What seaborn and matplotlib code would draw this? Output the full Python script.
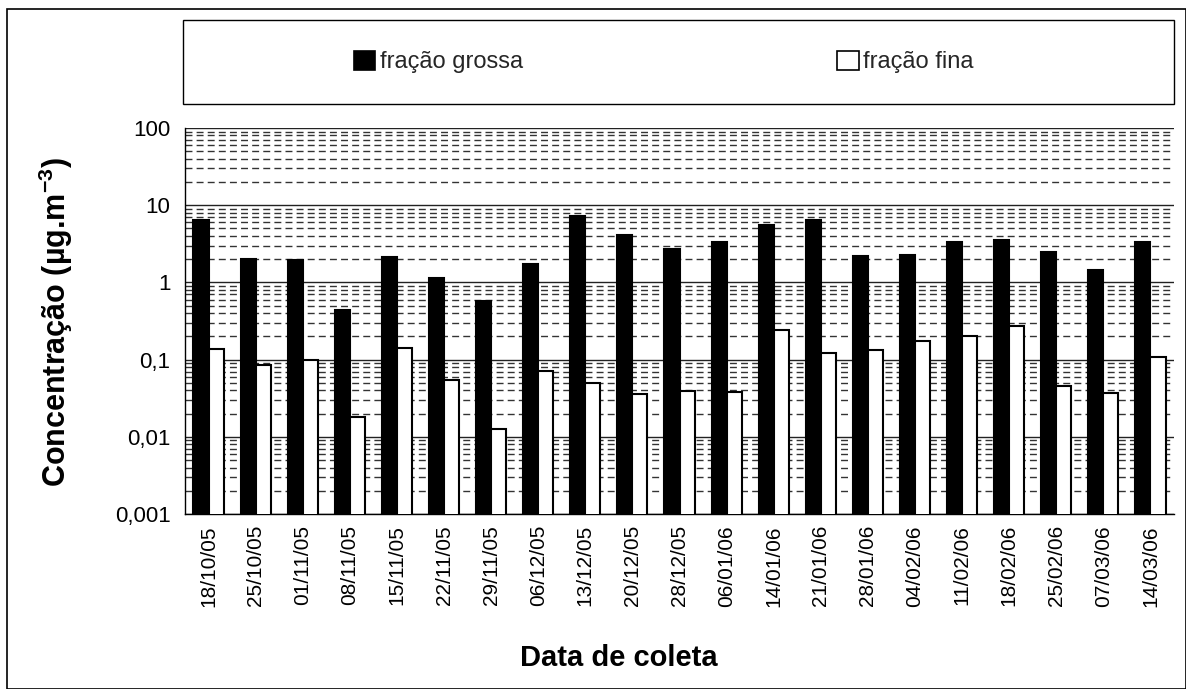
import numpy as np
import pandas as pd
import matplotlib
matplotlib.use("Agg")
import matplotlib.pyplot as plt
import seaborn as sns
from matplotlib.ticker import LogLocator, FixedLocator, FuncFormatter, NullFormatter
from matplotlib.patches import Rectangle, Patch

# dados
datas = ['18/10/05', '25/10/05', '01/11/05', '08/11/05', '15/11/05', '22/11/05', '29/11/05',
         '06/12/05', '13/12/05', '20/12/05', '28/12/05', '06/01/06', '14/01/06', '21/01/06',
         '28/01/06', '04/02/06', '11/02/06', '18/02/06', '25/02/06', '07/03/06', '14/03/06']
grossa = [6.4, 1.98, 1.93, 0.44, 2.12, 1.13, 0.58, 1.74, 7.3, 4.06, 2.72,
          3.29, 5.6, 6.4, 2.19, 2.24, 3.35, 3.53, 2.44, 1.44, 3.29]
fina = [0.137, 0.084, 0.1, 0.0178, 0.143, 0.054, 0.0127, 0.0706, 0.0494, 0.0363, 0.0397,
        0.0378, 0.239, 0.123, 0.133, 0.172, 0.204, 0.27, 0.0452, 0.0366, 0.109]
series = ['fração grossa', 'fração fina']
cores = {'fração grossa': 'black', 'fração fina': 'white'}

sns.set_theme(style="white")
plt.rcParams['font.family'] = ['Liberation Sans', 'DejaVu Sans']
plt.rcParams['mathtext.fontset'] = 'custom'
plt.rcParams['mathtext.rm'] = 'Liberation Sans:bold'
plt.rcParams['mathtext.it'] = 'Liberation Sans:bold'
plt.rcParams['mathtext.bf'] = 'Liberation Sans:bold'

df = pd.DataFrame({
    'Data': datas * 2,
    'Conc': grossa + fina,
    'Fracao': [series[0]] * len(datas) + [series[1]] * len(datas),
})

W, H = 1186, 689
fig = plt.figure(figsize=(W / 100, H / 100), dpi=100)
ax = fig.add_axes([185 / W, 1 - 514 / H, (1174 - 185) / W, (514 - 128) / H])

sns.barplot(data=df, x='Data', y='Conc', hue='Fracao', hue_order=series, palette=cores,
            edgecolor='black', linewidth=1.5, width=0.64, errorbar=None,
            legend=False, ax=ax, zorder=3)

ax.set_yscale('log')
ax.set_ylim(0.001, 100)
ax.set_xlim(-0.5, len(datas) - 0.5)

# grade
ax.yaxis.set_major_locator(LogLocator(base=10, numticks=10))
ax.yaxis.set_minor_locator(LogLocator(base=10, subs=np.arange(2, 10), numticks=10))
ax.yaxis.set_major_formatter(FuncFormatter(lambda v, _: f'{v:g}'.replace('.', ',')))
ax.yaxis.set_minor_formatter(NullFormatter())
ax.grid(which='major', axis='y', color='#222222', lw=1, ls='-')
ax.grid(which='minor', axis='y', color='#333333', lw=1, ls=(0, (5, 3)))
ax.set_axisbelow(True)

ax.xaxis.set_minor_locator(FixedLocator(np.arange(-0.5, len(datas), 1)))
ax.tick_params(axis='x', which='major', length=0, labelsize=15, rotation=90, pad=8)
ax.tick_params(axis='x', which='minor', length=7, width=1, color='black', direction='out')
ax.tick_params(axis='y', which='major', length=7, width=1, color='black', direction='out', labelsize=16)
ax.tick_params(axis='y', which='minor', length=0)
for lbl in ax.get_xticklabels():
    lbl.set_color('black')
for lbl in ax.get_yticklabels():
    lbl.set_color('black')

for s in ['top', 'right']:
    ax.spines[s].set_visible(False)
for s in ['left', 'bottom']:
    ax.spines[s].set_color('black')
    ax.spines[s].set_linewidth(1)

ax.set_xlabel('Data de coleta', fontsize=21, fontweight='bold', color='black')
ax.xaxis.set_label_coords((619 - 185) / 989, (514 - 644) / 386)
ax.set_ylabel('Concentração (µg.m$^{-3}$)', fontsize=22, fontweight='bold', color='black')
ax.yaxis.set_label_coords((75 - 185) / 989, (514 - 322) / 386)

# caixa da legenda
fig.patches.append(Rectangle((183 / W, 1 - 104 / H), (1174 - 183) / W, 84 / H,
                             transform=fig.transFigure, fill=False, edgecolor='black', lw=1))
handles = [Patch(facecolor=cores[s], edgecolor='black', lw=1.2) for s in series]
fig.legend(handles, series, loc='center', bbox_to_anchor=(664 / W, 1 - 62 / H), ncol=2,
           frameon=False, fontsize=17, handlelength=0.9, handleheight=0.9,
           handletextpad=0.2, columnspacing=13.3)

# borda externa
fig.patches.append(Rectangle((7 / W, 0), 1 - 7 / W, 1 - 9 / H, transform=fig.transFigure,
                             fill=False, edgecolor='black', lw=1.2))

fig.savefig('out.png', dpi=100)
